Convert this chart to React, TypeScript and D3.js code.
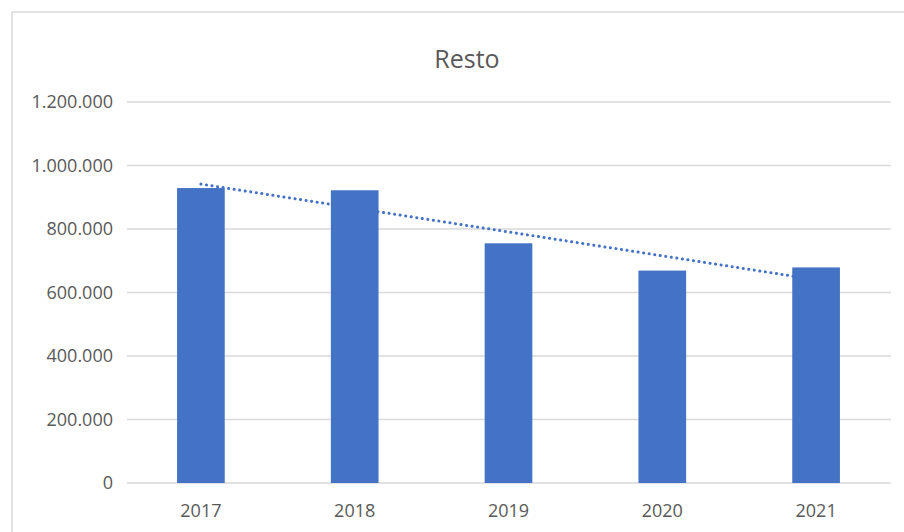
import React from 'react';
import * as d3 from 'd3';

const years = ['2017', '2018', '2019', '2020', '2021'];
const values = [929000, 922000, 755000, 669000, 679000];
const yTicks = [0, 200000, 400000, 600000, 800000, 1000000, 1200000];

const W = 904;
const H = 532;
const margin = { top: 102, right: 13, bottom: 49, left: 127 };

const fmt = (v: number) => d3.format(',')(v).replace(/,/g, '.');

const App = () => {
  const chartW = W - margin.left - margin.right;
  const chartH = H - margin.top - margin.bottom;

  const x = d3.scaleBand().domain(years).range([-3, chartW + 2]).paddingInner(0.69).paddingOuter(0.345);
  const y = d3.scaleLinear().domain([0, 1200000]).range([chartH, 0]);

  // linear trendline (least squares over the bar values)
  const xs = values.map((_, i) => i + 1);
  const mx = d3.mean(xs) as number;
  const my = d3.mean(values) as number;
  const slope = d3.sum(xs.map((xi, i) => (xi - mx) * (values[i] - my))) / d3.sum(xs.map(xi => (xi - mx) ** 2));
  const trend = xs.map(xi => my + slope * (xi - mx));
  const cx = (i: number) => (x(years[i]) as number) + x.bandwidth() / 2;
  const line = d3.line<number>().x((_, i) => cx(i)).y(d => y(d));

  const font = '"Open Sans", sans-serif';

  return (
    <svg width={W} height={H} style={{ position: 'absolute', left: 0, top: 0, background: '#fff' }}>
      <rect x={12} y={12} width={W} height={H} fill="#fff" stroke="#d9d9d9" strokeWidth={1.5} />
      <text x={467} y={68} textAnchor="middle" fontFamily={font} fontSize={25} fill="#595959">Resto</text>
      <g transform={`translate(${margin.left},${margin.top})`}>
        {yTicks.map(t => (
          <g key={t}>
            <line x1={0} x2={chartW} y1={y(t)} y2={y(t)} stroke="#d9d9d9" strokeWidth={1.5} />
            <text x={-14} y={y(t)} dy="0.35em" textAnchor="end" fontFamily={font} fontSize={18} fill="#595959">
              {fmt(t)}
            </text>
          </g>
        ))}
        <path d={line(trend) as string} fill="none" stroke="#4472c4" strokeWidth={3}
          strokeDasharray="0.1 5.5" strokeLinecap="round" />
        {values.map((v, i) => (
          <rect key={years[i]} x={x(years[i])} y={y(v)} width={x.bandwidth()} height={chartH - y(v)} fill="#4472c4" />
        ))}
        {years.map((yr, i) => (
          <text key={yr} x={cx(i)} y={chartH + 34} textAnchor="middle" fontFamily={font} fontSize={18} fill="#595959">
            {yr}
          </text>
        ))}
      </g>
    </svg>
  );
};

export default App;
